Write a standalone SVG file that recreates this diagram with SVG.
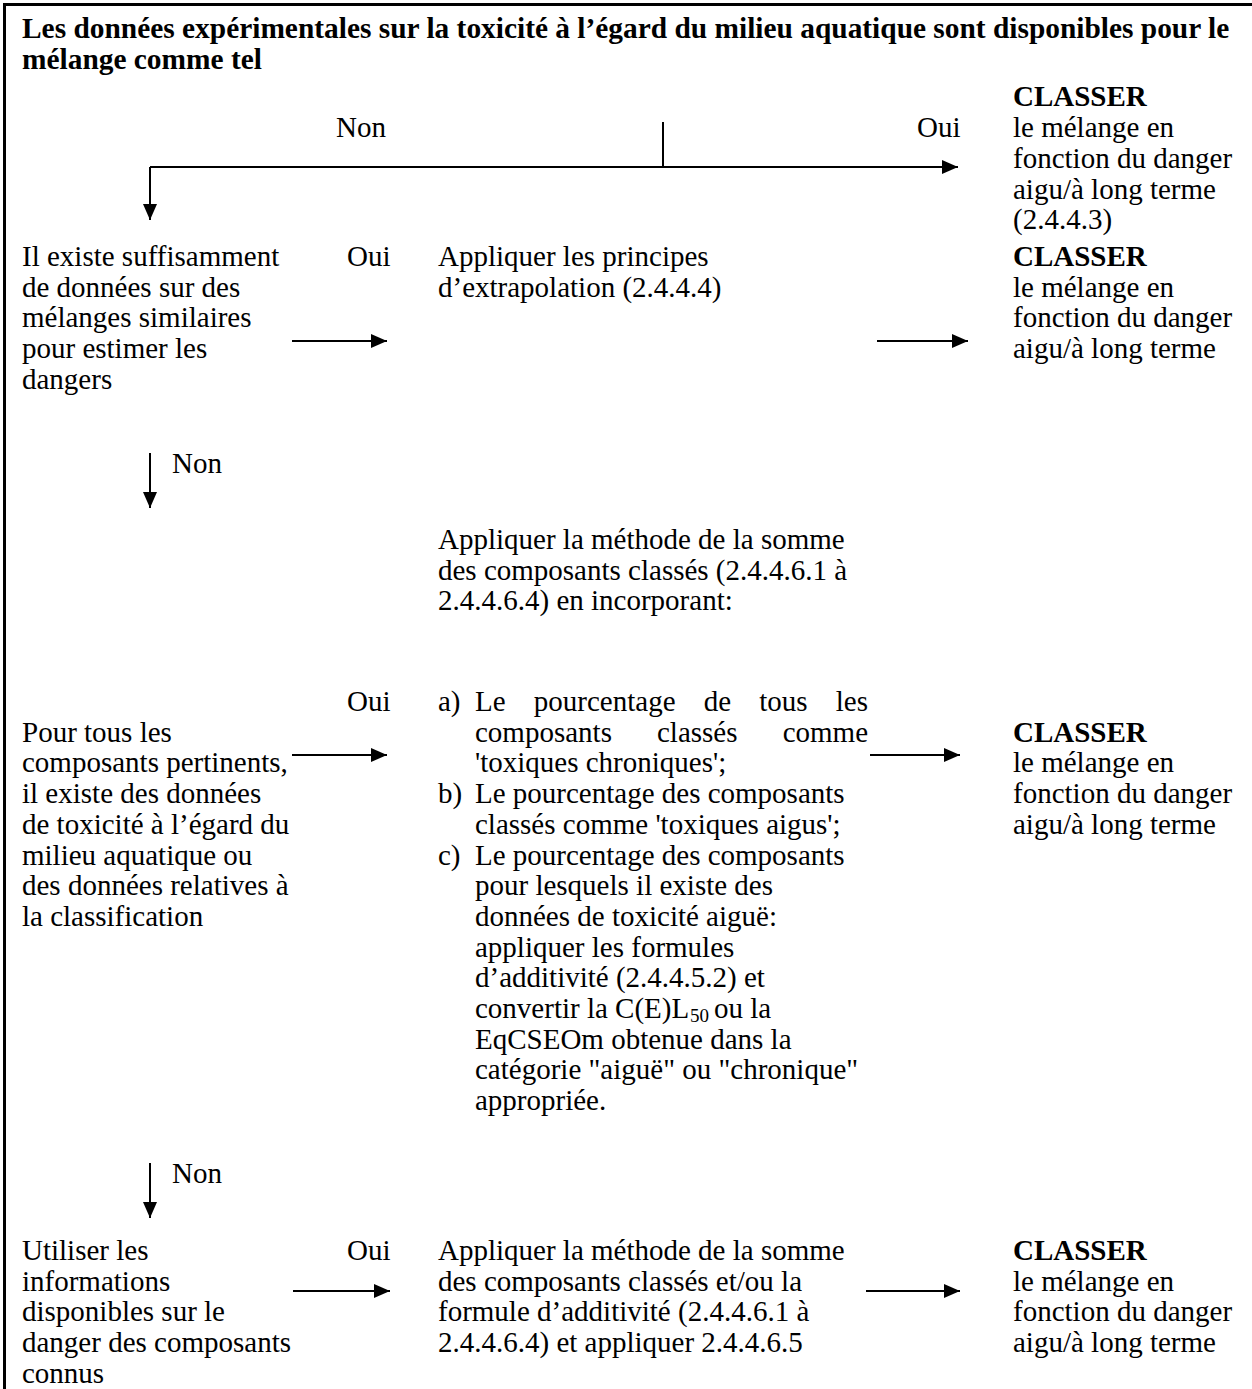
<svg xmlns="http://www.w3.org/2000/svg" width="1252" height="1389" viewBox="0 0 1252 1389">
<style>
text{font-family:"Liberation Serif","Times New Roman",serif;font-size:29px;fill:#000}
.b{font-weight:bold}
.t{font-size:29.4px}
.sub{font-size:19px}
.ln{stroke:#000;stroke-width:2;fill:none}
.frame{stroke:#000;stroke-width:3;fill:none}
</style>
<defs>
<marker id="ah" markerUnits="userSpaceOnUse" markerWidth="16" markerHeight="14" refX="16" refY="7" orient="auto">
<path d="M0,0 L16,7 L0,14 z" fill="#000"/>
</marker>
</defs>
<rect width="1252" height="1389" fill="#fff"/>
<path class="frame" d="M4.5,1389 V4.5 H1252"/>

<g id="title">
<text class="b t" x="22" y="38">Les données expérimentales sur la toxicité à l’égard du milieu aquatique sont disponibles pour le</text>
<text class="b t" x="22" y="69">mélange comme tel</text>
</g>

<g id="classer1">
<text class="b" x="1013" y="106">CLASSER</text>
<text x="1013" y="137">le mélange en</text>
<text x="1013" y="168">fonction du danger</text>
<text x="1013" y="198.5">aigu/à long terme</text>
<text x="1013" y="229">(2.4.4.3)</text>
</g>

<g id="q_similaires">
<text x="22" y="266">Il existe suffisamment</text>
<text x="22" y="296.7">de données sur des</text>
<text x="22" y="327.4">mélanges similaires</text>
<text x="22" y="358.1">pour estimer les</text>
<text x="22" y="388.8">dangers</text>
</g>

<g id="extrapolation">
<text x="438" y="266">Appliquer les principes</text>
<text x="438" y="296.7">d’extrapolation (2.4.4.4)</text>
</g>

<g id="classer2">
<text class="b" x="1013" y="266">CLASSER</text>
<text x="1013" y="296.7">le mélange en</text>
<text x="1013" y="327.4">fonction du danger</text>
<text x="1013" y="358.1">aigu/à long terme</text>
</g>

<g id="somme_intro">
<text x="438" y="549">Appliquer la méthode de la somme</text>
<text x="438" y="579.7">des composants classés (2.4.4.6.1 à</text>
<text x="438" y="610.4">2.4.4.6.4) en incorporant:</text>
</g>

<g id="q_composants">
<text x="22" y="741.7">Pour tous les</text>
<text x="22" y="772.4">composants pertinents,</text>
<text x="22" y="803.1">il existe des données</text>
<text x="22" y="833.8">de toxicité à l’égard du</text>
<text x="22" y="864.5">milieu aquatique ou</text>
<text x="22" y="895.2">des données relatives à</text>
<text x="22" y="925.9">la classification</text>
</g>

<g id="liste_abc">
<text x="438" y="711">a)</text>
<text y="711"><tspan x="475">Le</tspan><tspan x="533.8">pourcentage</tspan><tspan x="703.7">de</tspan><tspan x="759.3">tous</tspan><tspan x="835.8">les</tspan></text>
<text y="741.7"><tspan x="475">composants</tspan><tspan x="657">classés</tspan></text>
<text x="868" y="741.7" text-anchor="end">comme</text>
<text x="475" y="772.4">'toxiques chroniques';</text>
<text x="438" y="803.1">b)</text>
<text x="475" y="803.1">Le pourcentage des composants</text>
<text x="475" y="833.8">classés comme 'toxiques aigus';</text>
<text x="438" y="864.5">c)</text>
<text x="475" y="864.5">Le pourcentage des composants</text>
<text x="475" y="895.2">pour lesquels il existe des</text>
<text x="475" y="925.9">données de toxicité aiguë:</text>
<text x="475" y="956.6">appliquer les formules</text>
<text x="475" y="987.3">d’additivité (2.4.4.5.2) et</text>
<text x="475" y="1018">convertir la C(E)L</text>
<text class="sub" x="690" y="1022">50</text>
<text x="714" y="1018">ou la</text>
<text x="475" y="1048.7">EqCSEOm obtenue dans la</text>
<text x="475" y="1079.4">catégorie "aiguë" ou "chronique"</text>
<text x="475" y="1110.1">appropriée.</text>
</g>

<g id="classer3">
<text class="b" x="1013" y="741.7">CLASSER</text>
<text x="1013" y="772.4">le mélange en</text>
<text x="1013" y="803.1">fonction du danger</text>
<text x="1013" y="833.8">aigu/à long terme</text>
</g>

<g id="q_informations">
<text x="22" y="1260">Utiliser les</text>
<text x="22" y="1290.7">informations</text>
<text x="22" y="1321.4">disponibles sur le</text>
<text x="22" y="1352.1">danger des composants</text>
<text x="22" y="1382.8">connus</text>
</g>

<g id="somme_additivite">
<text x="438" y="1260">Appliquer la méthode de la somme</text>
<text x="438" y="1290.7">des composants classés et/ou la</text>
<text x="438" y="1321.4">formule d’additivité (2.4.4.6.1 à</text>
<text x="438" y="1352.1">2.4.4.6.4) et appliquer 2.4.4.6.5</text>
</g>

<g id="classer4">
<text class="b" x="1013" y="1260">CLASSER</text>
<text x="1013" y="1290.7">le mélange en</text>
<text x="1013" y="1321.4">fonction du danger</text>
<text x="1013" y="1352.1">aigu/à long terme</text>
</g>

<g id="connectors">
<path class="ln" d="M663,122 V167"/>
<path class="ln" d="M150,167 H958" marker-end="url(#ah)"/>
<path class="ln" d="M150,167 V220" marker-end="url(#ah)"/>
<text x="336" y="137">Non</text>
<text x="917" y="137">Oui</text>

<path class="ln" d="M292,341 H387" marker-end="url(#ah)"/>
<text x="347" y="266">Oui</text>
<path class="ln" d="M877,341 H968" marker-end="url(#ah)"/>

<path class="ln" d="M150,453 V508" marker-end="url(#ah)"/>
<text x="172" y="473">Non</text>

<path class="ln" d="M292,755 H387" marker-end="url(#ah)"/>
<text x="347" y="711">Oui</text>
<path class="ln" d="M870,755 H960" marker-end="url(#ah)"/>

<path class="ln" d="M150,1163 V1218" marker-end="url(#ah)"/>
<text x="172" y="1183">Non</text>

<path class="ln" d="M293,1291 H390" marker-end="url(#ah)"/>
<text x="347" y="1260">Oui</text>
<path class="ln" d="M866,1291 H960" marker-end="url(#ah)"/>
</g>
</svg>
